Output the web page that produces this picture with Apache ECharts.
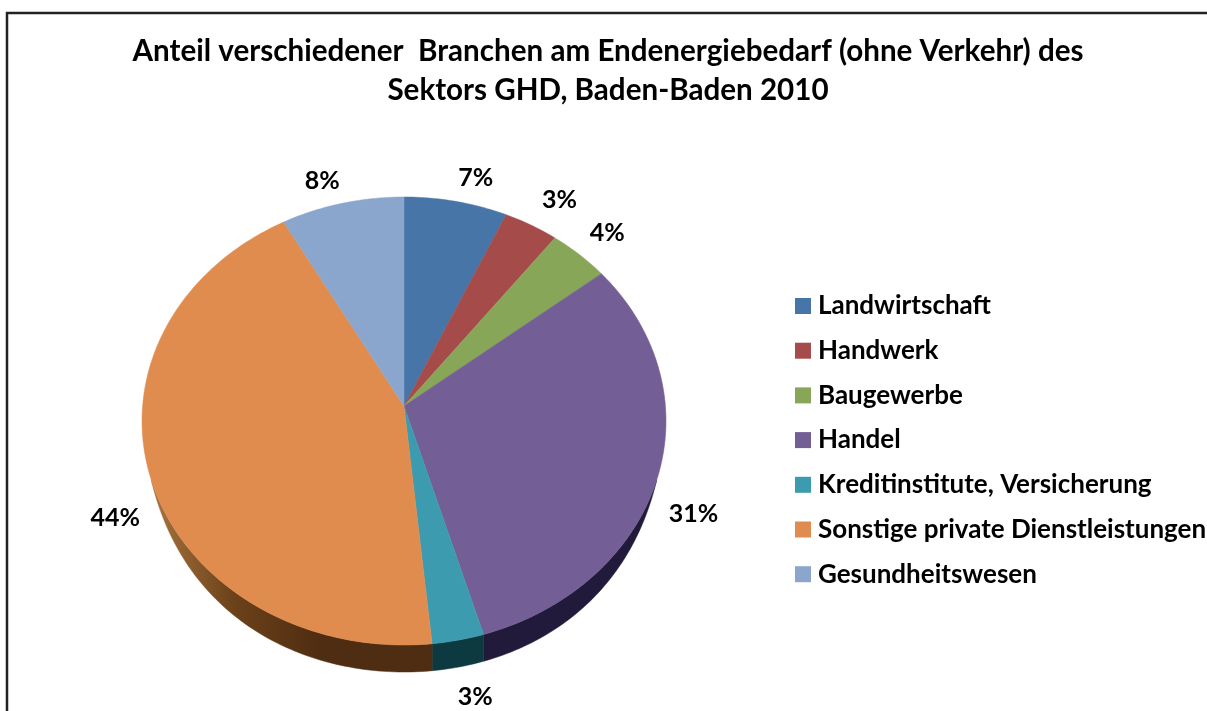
<!DOCTYPE html>
<html>
<head>
<meta charset="utf-8">
<title>Endenergiebedarf GHD Baden-Baden 2010</title>
<script src="https://cdn.jsdelivr.net/npm/echarts@6/dist/echarts.min.js"></script>
<style>
	html, body { margin: 0; padding: 0; background: #fff; overflow: hidden; }
	#chart { width: 1207px; height: 711px; }
</style>
</head>
<body>
<div id="chart"></div>
<script>
const titleText = 'Anteil verschiedener  Branchen am Endenergiebedarf (ohne Verkehr) des\nSektors GHD, Baden-Baden 2010'
const branches = ['Landwirtschaft', 'Handwerk', 'Baugewerbe', 'Handel', 'Kreditinstitute, Versicherung', 'Sonstige private Dienstleistungen', 'Gesundheitswesen']
// Anteile aus den Winkeln im Bild geschaetzt, Beschriftung wie im Bild
const shares = [6.8, 3.6, 4.0, 31.0, 3.0, 43.5, 8.1]
const shareLabels = ['7%', '3%', '4%', '31%', '3%', '44%', '8%']

const topColors = ['#4775a8', '#a54b4a', '#87a658', '#735e95', '#3d9bb0', '#e08c4e', '#8ba6cd']
const wallColors = ['#223a54', '#522524', '#43532c', '#221a3a', '#0d3a40', '#4f2d12', '#45536a']

// Perspektive der Torte: Mitte, Radien und Tiefe in Pixeln
const cx = 404, cy = 406, rx = 261.4, ry = 223, tilt = 0.067, depth = 27
const wallHalfAngle = 71
const labelRadius = 1.12
const labelNudge = [[14, -1], [14, -5], [8, -4], [4, 30], [10, 26], [-3, 35], [-13, 0]]
const total = shares.reduce((a, b) => a + b, 0)

const project = (deg, f = 1) => {
	const t = (deg * Math.PI) / 180
	const u = f * Math.sin(t)
	const v = f * Math.cos(t)
	const d = 1 + tilt * v
	return [cx + (rx * u) / d, cy - (ry * v) / d]
}

const steps = (from, to) => {
	const list = []
	const n = Math.max(2, Math.ceil(to - from))
	for (let i = 0; i <= n; i++) list.push(from + ((to - from) * i) / n)
	return list
}

const arc = (from, to) => steps(from, to).map((deg) => project(deg))

// die Wand laeuft zu den Seiten hin spitz aus
const wallDepth = (deg) => depth * (1 - Math.pow(Math.abs(deg - 180) / wallHalfAngle, 3.5))

const wallFill = (i) => {
	if (i !== 5) return wallColors[i]
	// nur die Seite des grossen Stuecks wird nach links heller
	return {
		type: 'linear', x: 150, y: 0, x2: 320, y2: 0, global: true,
		colorStops: [
			{ offset: 0, color: '#a97440' },
			{ offset: 0.5, color: '#6b4119' },
			{ offset: 1, color: wallColors[5] },
		],
	}
}

const renderSlice = (params, api) => {
	const i = params.seriesIndex
	const before = shares.slice(0, i).reduce((a, b) => a + b, 0)
	const from = (before / total) * 360
	const to = ((before + api.value(0)) / total) * 360
	const children = []

	// sichtbare Seitenwand nur vorne
	const wallFrom = Math.max(from, 180 - wallHalfAngle)
	const wallTo = Math.min(to, 180 + wallHalfAngle)
	if (wallTo > wallFrom) {
		const degs = steps(wallFrom, wallTo)
		const rim = degs.map((deg) => project(deg))
		const low = degs.map((deg, k) => [rim[k][0], rim[k][1] + wallDepth(deg)]).reverse()
		children.push({
			type: 'polygon',
			shape: { points: rim.concat(low) },
			style: { fill: wallFill(i), stroke: wallFill(i), lineWidth: 0.5 },
		})
	}

	children.push({
		type: 'polygon',
		shape: { points: [[cx, cy]].concat(arc(from, to)) },
		style: { fill: topColors[i], stroke: topColors[i], lineWidth: 0.5 },
	})

	const lp = project((from + to) / 2, labelRadius)
	children.push({
		type: 'text',
		x: lp[0] + labelNudge[i][0],
		y: lp[1] + labelNudge[i][1],
		style: {
			text: shareLabels[i],
			fill: '#000',
			font: 'bold 25px Lato',
			textAlign: 'center',
			textVerticalAlign: 'middle',
		},
	})
	return { type: 'group', children }
}

const chart = echarts.init(document.getElementById('chart'))
chart.setOption({
	animation: false,
	backgroundColor: '#fff',
	title: {
		text: titleText,
		left: 603,
		top: 27,
		textAlign: 'center',
		textStyle: { fontFamily: 'Lato', fontWeight: 'bold', fontSize: 29.6, lineHeight: 39, color: '#000' },
	},
	legend: {
		orient: 'vertical',
		left: 795,
		top: 293,
		padding: 0,
		icon: 'rect',
		itemWidth: 16,
		itemHeight: 16,
		itemGap: 18.7,
		selectedMode: false,
		data: branches,
		textStyle: { fontFamily: 'Lato', fontWeight: 'bold', fontSize: 26, lineHeight: 26, color: '#000', padding: [0, 0, 0, 2] },
	},
	graphic: [
		{
			type: 'rect',
			shape: { x: 7, y: 13, width: 1260, height: 760 },
			style: { fill: 'none', stroke: '#222', lineWidth: 2.5 },
			silent: true,
		},
	],
	series: branches.map((name, i) => ({
		type: 'custom',
		name,
		coordinateSystem: 'none',
		renderItem: renderSlice,
		data: [[shares[i]]],
		itemStyle: { color: topColors[i] },
		silent: true,
	})),
})
</script>
</body>
</html>
